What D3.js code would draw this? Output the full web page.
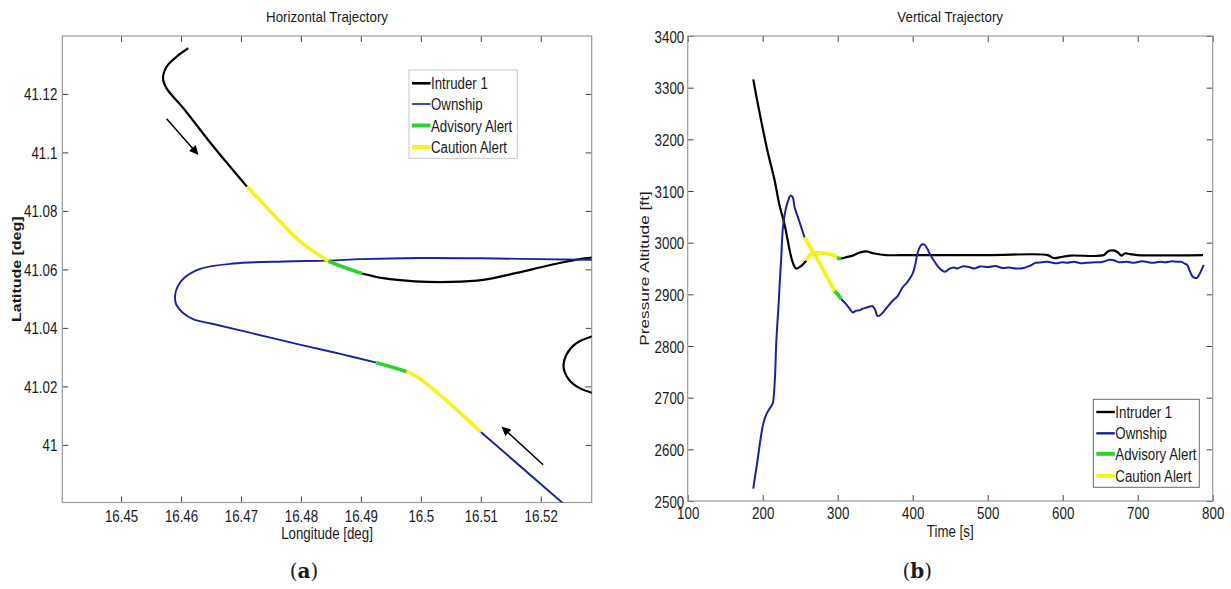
<!DOCTYPE html>
<html>
<head>
<meta charset="utf-8">
<script src="https://cdn.jsdelivr.net/npm/d3@7"></script>
<style>
  body { margin: 0; background: #fff; }
  svg { display: block; }
  text { font-family: "Liberation Sans", Arial, sans-serif; fill: #1a1a1a; }
</style>
</head>
<body>
<svg id="viz" width="1231" height="589"></svg>
<script>
// ---- data: horizontal trajectory (lon, lat) ----
const lonTicks = [16.45, 16.46, 16.47, 16.48, 16.49, 16.5, 16.51, 16.52];
const latTicks = [41, 41.02, 41.04, 41.06, 41.08, 41.1, 41.12];

const intruderH = [[16.4612,41.1356],[16.4593,41.1328],[16.4576,41.1293],[16.4570,41.1254],[16.4576,41.1219],[16.4604,41.1151],[16.4654,41.1020],[16.4710,41.0883]];
const intruderHCaution = [[16.4710,41.0883],[16.4759,41.0777],[16.4798,41.0697],[16.4846,41.0628]];
const intruderHAdvisory = [[16.4846,41.0628],[16.4871,41.0608],[16.4902,41.0586]];
const intruderHAfter = [[16.4902,41.0586],[16.4937,41.0570],[16.4990,41.0559],[16.5050,41.0557],[16.5104,41.0564],[16.5160,41.0588],[16.5216,41.0615],[16.5265,41.0635],[16.5300,41.0644]];
const intruderHTail = [[16.5300,41.0380],[16.5259,41.0347],[16.5243,41.0309],[16.5238,41.0269],[16.5246,41.0226],[16.5265,41.0194],[16.5300,41.0170]];

const ownshipH = [[16.5240,40.9795],[16.5100,41.0044]];
const ownshipHCaution = [[16.5100,41.0044],[16.5038,41.0160],[16.4993,41.0234],[16.4976,41.0251]];
const ownshipHAdvisory = [[16.4976,41.0251],[16.4950,41.0267],[16.4926,41.0281]];
const ownshipHAfter = [[16.4926,41.0281],[16.4864,41.0312],[16.4798,41.0343],[16.4720,41.0381],[16.4650,41.0415],[16.4621,41.0429],[16.4603,41.0452],[16.4592,41.0480],[16.4590,41.0507],[16.4594,41.0540],[16.4606,41.0572],[16.4632,41.0602],[16.4687,41.0620],[16.4771,41.0627],[16.4846,41.0630],[16.4900,41.0635],[16.5000,41.0639],[16.5100,41.0638],[16.5200,41.0635],[16.5300,41.0632]];

const arrowsH = [
  [[16.4576,41.1115],[16.4628,41.0994]],
  [[16.5204,40.9932],[16.5136,41.0060]]
];

// ---- data: vertical trajectory (time s, altitude ft) ----
const timeTicks = [100, 200, 300, 400, 500, 600, 700, 800];
const altTicks = [2500, 2600, 2700, 2800, 2900, 3000, 3100, 3200, 3300, 3400];

const intruderV = [[187.4,3316],[194,3265],[206,3180],[216,3120],[222,3075],[229,3036],[236,2985],[240,2962],[244.7,2950],[251.4,2955],[258,2965]];
const intruderVCaution = [[258,2965],[263,2976],[270,2980],[285,2979],[294,2976],[299,2970]];
const intruderVAdvisory = [[299,2970],[304.5,2969]];
const intruderVAfter = [[304.5,2969],[312,2972],[320,2975],[330,2981],[337.7,2983],[348.7,2979],[364,2976],[400,2976],[500,2976],[580,2976],[585,2972],[590,2970],[597,2972],[610,2975],[655,2976],[660,2983],[667,2985],[673,2982],[678,2975],[683,2979],[690,2978],[700,2976],[787,2976]];

const ownshipV = [[187.4,2524],[192.7,2575],[200.5,2648],[205,2668],[208.4,2677],[212,2685],[213.6,2690],[216.2,2735],[218.2,2810],[221.5,2888],[222.6,2920],[224.5,2965],[227,3030],[230.4,3063],[233.6,3080],[237,3091],[240,3088],[242.5,3069],[249.1,3040],[255.8,3010]];
const ownshipVCaution = [[255.8,3010],[266,2985],[276,2960],[286,2933],[296,2906]];
const ownshipVAdvisory = [[296,2906],[300,2900],[304.5,2891]];
const ownshipVAfter = [[304.5,2891],[311.2,2881],[316,2872],[320,2865],[324,2868],[328.8,2869],[333,2872],[337.7,2874],[342,2876],[346.5,2877],[350,2870],[353.1,2858],[357,2860],[362,2868],[373,2887],[380,2897],[386.3,2913],[393,2924],[399.6,2939],[403,2955],[406.5,2980],[410,2993],[413,2997],[416,2996],[419.5,2988],[424,2975],[428.4,2965],[433,2955],[439.4,2946],[444,2944],[448.3,2949],[454.5,2952],[460,2950],[466,2954],[475,2953],[482,2950],[490,2954],[501,2953],[510,2955],[520,2951],[528,2952],[538,2950],[548,2951],[556,2955],[564,2961],[572,2962],[580,2963],[590,2960],[600,2962],[606,2961],[615,2963],[624,2960],[632,2961],[642,2962],[650,2962],[656,2964],[662,2967],[668,2966],[675,2962],[685,2963],[695,2961],[705,2964],[711,2963],[720,2961],[730,2963],[737,2962],[746,2964],[752,2963],[758,2963],[762,2960],[766,2957],[769,2947],[772.8,2935],[776,2932],[779.1,2932],[782,2938],[785,2947],[788,2957]];

const legendLabels = ["Intruder 1", "Ownship", "Advisory Alert", "Caution Alert"];

const BLACK = "#000", BLUE = "#1a22a0", GREEN = "#2fd02f", YELLOW = "#f4f41c";
const FONT = 13.3, STRETCH = 1.25;

var svg = d3.select("#viz");
var defs = svg.append("defs");
defs.append("marker")
  .attr("id", "arrowhead")
  .attr("viewBox", "0 0 10 10")
  .attr("refX", 9).attr("refY", 5)
  .attr("markerWidth", 10).attr("markerHeight", 9)
  .attr("markerUnits", "userSpaceOnUse")
  .attr("orient", "auto")
  .append("path").attr("d", "M0,0L10,5L0,10z").attr("fill", "#000");

// stretched text like the original (picture is taller than wide)
function label(g, x, y, str, opts) {
  opts = opts || {};
  var sy = opts.sy || STRETCH;
  var rot = opts.rotate ? " rotate(-90)" : "";
  return g.append("text")
    .attr("transform", "translate(" + x + "," + y + ") scale(1," + sy + ")" + rot)
    .attr("text-anchor", opts.anchor || "middle")
    .style("font-size", (opts.size || FONT) + "px")
    .style("font-weight", opts.weight || null)
    .text(str);
}

function drawPanel(opt) {
  var g = svg.append("g").attr("transform", "translate(" + opt.left + "," + opt.top + ")");
  var w = opt.width, h = opt.height;
  var x = d3.scaleLinear().domain(opt.xDomain).range([0, w]);
  var y = d3.scaleLinear().domain(opt.yDomain).range([h, 0]);

  // ticks, inward on all four sides
  var fmt = opt.fmt;
  var bottom = g.append("g").attr("transform", "translate(0," + h + ")")
    .call(d3.axisBottom(x).tickValues(opt.xTicks).tickSizeInner(-6).tickSizeOuter(0).tickFormat(fmt));
  g.append("g").call(d3.axisTop(x).tickValues(opt.xTicks).tickSizeInner(-6).tickSizeOuter(0).tickFormat(""));
  var left = g.append("g")
    .call(d3.axisLeft(y).tickValues(opt.yTicks).tickSizeInner(-6).tickSizeOuter(0).tickFormat(fmt));
  g.append("g").attr("transform", "translate(" + w + ",0)")
    .call(d3.axisRight(y).tickValues(opt.yTicks).tickSizeInner(-6).tickSizeOuter(0).tickFormat(""));
  g.selectAll(".domain").remove();
  g.selectAll(".tick line").attr("stroke", "#444").attr("stroke-width", 1);

  bottom.selectAll("text")
    .attr("y", null).attr("dy", null).attr("fill", "#1a1a1a")
    .style("font-size", FONT + "px")
    .attr("transform", "translate(0," + opt.xLabelOffset + ") scale(1," + STRETCH + ")");
  left.selectAll("text")
    .attr("x", null).attr("dy", null).attr("fill", "#1a1a1a")
    .style("font-size", FONT + "px")
    .attr("transform", "translate(" + (-opt.yLabelGap) + ",6) scale(1," + STRETCH + ")");
  bottom.attr("font-family", null);
  left.attr("font-family", null);

  g.append("rect").attr("width", w).attr("height", h)
    .attr("fill", "none").attr("stroke", "#9a9a9a").attr("stroke-width", 1.2);

  var clipId = "clip-" + opt.id;
  defs.append("clipPath").attr("id", clipId)
    .append("rect").attr("width", w).attr("height", h);
  var plot = g.append("g").attr("clip-path", "url(#" + clipId + ")");

  var line = d3.line().x(function (d) { return x(d[0]); }).y(function (d) { return y(d[1]); })
    .curve(d3.curveCatmullRom.alpha(0.5));

  opt.series.forEach(function (s) {
    plot.append("path").datum(s.data)
      .attr("fill", "none").attr("stroke", s.color).attr("stroke-width", s.width)
      .attr("stroke-linejoin", "round").attr("stroke-linecap", "butt")
      .attr("d", line);
  });

  (opt.arrows || []).forEach(function (a) {
    plot.append("line")
      .attr("x1", x(a[0][0])).attr("y1", y(a[0][1]))
      .attr("x2", x(a[1][0])).attr("y2", y(a[1][1]))
      .attr("stroke", "#000").attr("stroke-width", 1.5)
      .attr("marker-end", "url(#arrowhead)");
  });

  // title and axis labels
  label(g, w / 2, -14, opt.title, { sy: 1.17 });
  label(g, w / 2, h + opt.xTitleOffset, opt.xTitle);
  label(g, opt.yTitleX, h / 2, opt.yTitle, { rotate: true, sy: opt.yTitleStretch, weight: opt.yTitleWeight });
  label(g, 0, 0, "", {})
    .style("font-family", "'DejaVu Serif', serif").style("font-size", "20px")
    .attr("transform", "translate(" + (w / 2 - opt.capShift) + "," + (577.5 - opt.top) + ") scale(1,1.05)")
    .call(function (t) {
      t.append("tspan").text("(");
      t.append("tspan").attr("font-weight", "bold").text(opt.cap);
      t.append("tspan").text(")");
    });

  // legend
  var lg = g.append("g").attr("transform", "translate(" + opt.legend.x + "," + opt.legend.y + ")");
  lg.append("rect").attr("width", opt.legend.w).attr("height", opt.legend.h)
    .attr("fill", "#fff").attr("stroke", opt.legend.stroke).attr("stroke-width", 1);
  var legendStyle = [
    { color: BLACK, width: opt.legend.blackWidth },
    { color: BLUE, width: opt.legend.blueWidth },
    { color: GREEN, width: 4 },
    { color: YELLOW, width: 4 }
  ];
  legendLabels.forEach(function (name, i) {
    var ly = opt.legend.rows[i];
    lg.append("line").attr("x1", 3).attr("x2", 21.5).attr("y1", ly).attr("y2", ly)
      .attr("stroke", legendStyle[i].color).attr("stroke-width", legendStyle[i].width);
    label(lg, 22, ly + 6, name, { anchor: "start", sy: 1.3 });
  });
}

drawPanel({
  id: "h", left: 62.3, top: 36, width: 529.4, height: 466.5,
  xDomain: [16.4402, 16.5285], yDomain: [40.9803, 41.1398],
  xTicks: lonTicks, yTicks: latTicks,
  fmt: function (d) { return String(+d.toFixed(4)); },
  xLabelOffset: 19, yLabelGap: 5,
  title: "Horizontal Trajectory",
  xTitle: "Longitude [deg]", xTitleOffset: 36,
  yTitle: "Latitude [deg]", yTitleX: 20.5 - 62.3, yTitleStretch: 1.2, yTitleWeight: "bold",
  cap: "a", capShift: 23,
  series: [
    { data: intruderH, color: BLACK, width: 2.2 },
    { data: intruderHAfter, color: BLACK, width: 2.2 },
    { data: intruderHTail, color: BLACK, width: 2.2 },
    { data: ownshipH, color: BLUE, width: 1.9 },
    { data: ownshipHAfter, color: BLUE, width: 1.9 },
    { data: intruderHCaution, color: YELLOW, width: 3.6 },
    { data: ownshipHCaution, color: YELLOW, width: 3.6 },
    { data: intruderHAdvisory, color: GREEN, width: 3.6 },
    { data: ownshipHAdvisory, color: GREEN, width: 3.6 }
  ],
  arrows: arrowsH,
  legend: { x: 409 - 62.3, y: 70 - 36, w: 108.3, h: 88.3, rows: [13.3, 34, 55.5, 77], stroke: "#c8c8c8", blackWidth: 2.6, blueWidth: 1.6 }
});

drawPanel({
  id: "v", left: 687.7, top: 36, width: 525, height: 465,
  xDomain: [100, 800], yDomain: [2500, 3400],
  xTicks: timeTicks, yTicks: altTicks,
  fmt: d3.format("d"),
  xLabelOffset: 18, yLabelGap: 3.5,
  title: "Vertical Trajectory",
  xTitle: "Time [s]", xTitleOffset: 36,
  yTitle: "Pressure Altitude [ft]", yTitleX: 649 - 687.7, yTitleStretch: 1.3,
  cap: "b", capShift: 33,
  series: [
    { data: intruderV, color: BLACK, width: 2.2 },
    { data: intruderVAfter, color: BLACK, width: 2.2 },
    { data: ownshipV, color: BLUE, width: 2 },
    { data: ownshipVAfter, color: BLUE, width: 2 },
    { data: intruderVCaution, color: YELLOW, width: 3.8 },
    { data: ownshipVCaution, color: YELLOW, width: 3.8 },
    { data: intruderVAdvisory, color: GREEN, width: 3.8 },
    { data: ownshipVAdvisory, color: GREEN, width: 3.8 }
  ],
  legend: { x: 1093.3 - 687.7, y: 399.3 - 36, w: 106, h: 88, rows: [12.7, 34, 54.5, 76.5], stroke: "#6a6a6a", blackWidth: 2.4, blueWidth: 2.4 }
});
</script>
</body>
</html>
